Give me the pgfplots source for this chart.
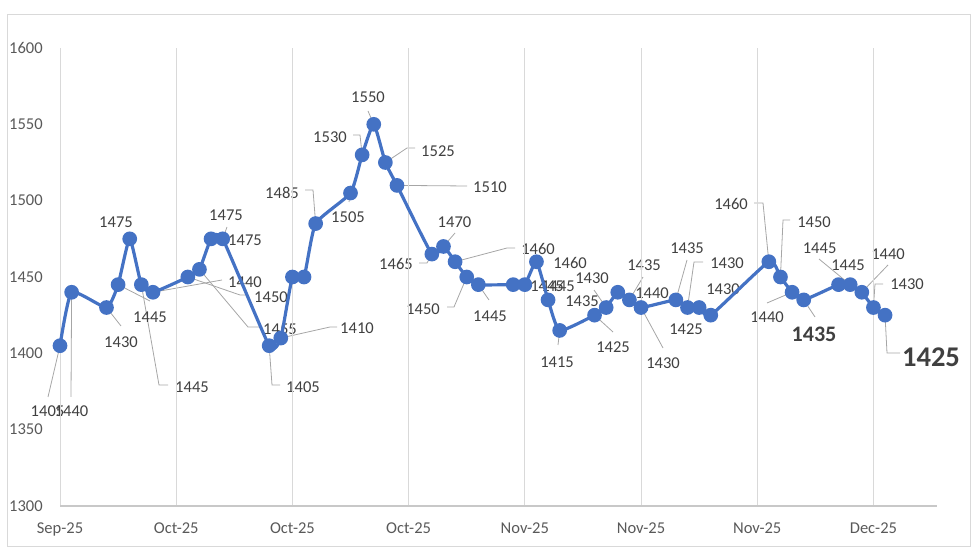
\documentclass[border=0pt]{standalone}
\usepackage{fontspec}
\setmainfont{Carlito}
\usepackage{pgfplots}
\pgfplotsset{compat=1.18}
\definecolor{lineblue}{HTML}{4472C4}
\definecolor{leadgray}{HTML}{A6A6A6}
\definecolor{lbltxt}{HTML}{404040}
\definecolor{ticktxt}{HTML}{595959}
\definecolor{gridc}{HTML}{D9D9D9}
\definecolor{axc}{HTML}{C8C8C8}
\newcommand{\dpt}[2]{({60+11.62*#1},{50+(#2-1300)*1.52667})}
\newcommand{\im}[2]{(#1,{556-#2})}
\newcommand{\lab}[3]{\node[lbl] at \im{#2}{#3} {#1};}
\begin{document}
\begin{tikzpicture}[x=0.75pt,y=0.75pt,
  lbl/.style={text=lbltxt,font=\fontsize{12.4}{14}\selectfont,inner sep=0pt},
  ld/.style={draw=leadgray,line width=0.6pt}]
\path[use as bounding box] (0,0) rectangle (980,556);
\draw[gridc,line width=0.75pt] (7,10) rectangle (970,541);
% leader lines
\draw[ld] \dpt{0}{1405} -- \im{48}{397};
\draw[ld] \dpt{1}{1440} -- \im{71}{397};
\draw[ld] \dpt{4}{1430} -- \im{121}{326};
\draw[ld] \dpt{5}{1445} -- \im{150}{301};
\draw[ld] \dpt{7}{1445} -- \im{159}{385} -- \im{168}{385};
\draw[ld] \dpt{8}{1440} -- \im{222}{280};
\draw[ld] \dpt{11}{1450} -- \im{240}{295} -- \im{248}{295};
\draw[ld] \dpt{12}{1455} -- \im{248}{327} -- \im{261}{327};
\draw[ld] \dpt{14}{1475} -- \im{227}{227};
\draw[ld] \dpt{18}{1405} -- \im{272}{385} -- \im{280}{385};
\draw[ld] \dpt{19}{1410} -- \im{330}{327} -- \im{337}{327};
\draw[ld] \dpt{22}{1485} -- \im{313}{190} -- \im{305}{190};
\draw[ld] \dpt{25}{1505} -- \im{349}{202};
\draw[ld] \dpt{26}{1530} -- \im{360}{135} -- \im{353}{135};
\draw[ld] \dpt{27}{1550} -- \im{368}{111};
\draw[ld] \dpt{28}{1525} -- \im{407}{148} -- \im{415}{148};
\draw[ld] \dpt{29}{1510} -- \im{467}{186};
\draw[ld] \dpt{32}{1465} -- \im{427}{263} -- \im{419}{263};
\draw[ld] \dpt{33}{1470} -- \im{455}{233};
\draw[ld] \dpt{34}{1460} -- \im{507}{248} -- \im{515}{248};
\draw[ld] \dpt{35}{1450} -- \im{454}{307} -- \im{447}{307};
\draw[ld] \dpt{36}{1445} -- \im{489}{300};
\draw[ld] \dpt{43}{1415} -- \im{558}{345};
\draw[ld] \dpt{46}{1425} -- \im{613}{332};
\draw[ld] \dpt{47}{1430} -- \im{594}{290};
\draw[ld] \dpt{49}{1435} -- \im{643}{277};
\draw[ld] \dpt{50}{1430} -- \im{663}{348};
\draw[ld] \dpt{53}{1435} -- \im{687}{260};
\draw[ld] \dpt{54}{1430} -- \im{694}{262} -- \im{703}{262};
\draw[ld] \dpt{61}{1460} -- \im{763}{203} -- \im{754}{203};
\draw[ld] \dpt{62}{1450} -- \im{783}{220} -- \im{790}{220};
\draw[ld] \dpt{63}{1440} -- \im{767}{303};
\draw[ld] \dpt{64}{1435} -- \im{815}{317};
\draw[ld] \dpt{68}{1445} -- \im{819}{259};
\draw[ld] \dpt{69}{1440} -- \im{888}{265};
\draw[ld] \dpt{70}{1430} -- \im{875}{284} -- \im{883}{284};
\draw[ld] \dpt{71}{1425} -- \im{887}{353} -- \im{900}{353};
% data labels
\lab{1405}{47.5}{411}
\lab{1440}{71.5}{411}
\lab{1430}{121}{342}
\lab{1445}{150}{317}
\lab{1475}{116}{222}
\lab{1445}{192}{387}
\lab{1440}{245}{282}
\lab{1450}{271}{297}
\lab{1455}{280}{329}
\lab{1475}{226}{215}
\lab{1475}{245}{240}
\lab{1405}{303}{387}
\lab{1410}{357}{328}
\lab{1485}{282}{193}
\lab{1505}{348}{217}
\lab{1530}{330}{137}
\lab{1550}{368}{97}
\lab{1525}{438}{151}
\lab{1510}{490}{187}
\lab{1465}{396}{264}
\lab{1470}{454.5}{222}
\lab{1460}{538}{249}
\lab{1450}{423}{309}
\lab{1445}{490}{316}
\lab{1415}{557}{362}
\lab{1460}{570}{263}
\lab{1445}{547}{286}
\lab{1445}{558}{286}
\lab{1435}{582}{301}
\lab{1430}{592}{278}
\lab{1425}{613}{347}
\lab{1440}{652}{293}
\lab{1435}{644}{265}
\lab{1430}{663}{363}
\lab{1435}{687}{248}
\lab{1425}{686}{329}
\lab{1430}{727}{263}
\lab{1430}{723}{289}
\lab{1460}{731}{204}
\lab{1450}{814}{222}
\lab{1440}{767}{317}
\node[lbl,font=\fontsize{16.6}{18}\selectfont\bfseries] at \im{814}{334} {1435};
\lab{1445}{819.6}{248}
\lab{1445}{848}{265}
\lab{1440}{888}{254}
\lab{1430}{907}{284}
\node[lbl,font=\fontsize{21.4}{24}\selectfont\bfseries] at \im{931}{357} {1425};
\begin{axis}[at={(45pt,37.5pt)}, anchor=south west, scale only axis,
  width=657.75pt, height=343.5pt,
  xmin=0, xmax=75.47, ymin=1300, ymax=1600,
  xtick={0,10,20,30,40,50,60,70},
  xticklabels={Sep-25,Oct-25,Oct-25,Oct-25,Nov-25,Nov-25,Nov-25,Dec-25},
  ytick={1300,1350,1400,1450,1500,1550,1600},
  /pgf/number format/1000 sep={},
  /pgf/number format/assume math mode=true,
  major tick length=0pt,
  axis line style={draw=none},
  xmajorgrids, major grid style={gridc, line width=0.75pt},
  ticklabel style={font=\fontsize{12.4}{14}\selectfont, text=ticktxt, inner sep=0pt},
  xticklabel style={anchor=base, yshift=-20.25pt},
  yticklabel style={anchor=east, xshift=-12.75pt},
  clip=false]
\draw[axc, line width=0.9pt] (axis cs:0,1300) -- (axis cs:75.47,1300);
\addplot[lineblue, line width=2.4pt, smooth, tension=0.3, mark=*, mark size=4.3pt,
  mark options={solid, fill=lineblue, draw=none}] coordinates {
(0,1405) (1,1440) (4,1430) (5,1445) (6,1475) (7,1445) (8,1440)
(11,1450) (12,1455) (13,1475) (14,1475) (18,1405) (19,1410) (20,1450)
(21,1450) (22,1485) (25,1505) (26,1530) (27,1550) (28,1525) (29,1510)
(32,1465) (33,1470) (34,1460) (35,1450) (36,1445) (39,1445) (40,1445)
(41,1460) (42,1435) (43,1415) (46,1425) (47,1430) (48,1440) (49,1435)
(50,1430) (53,1435) (54,1430) (55,1430) (56,1425) (61,1460) (62,1450)
(63,1440) (64,1435) (67,1445) (68,1445) (69,1440) (70,1430) (71,1425)
};
\end{axis}
\end{tikzpicture}
\end{document}
